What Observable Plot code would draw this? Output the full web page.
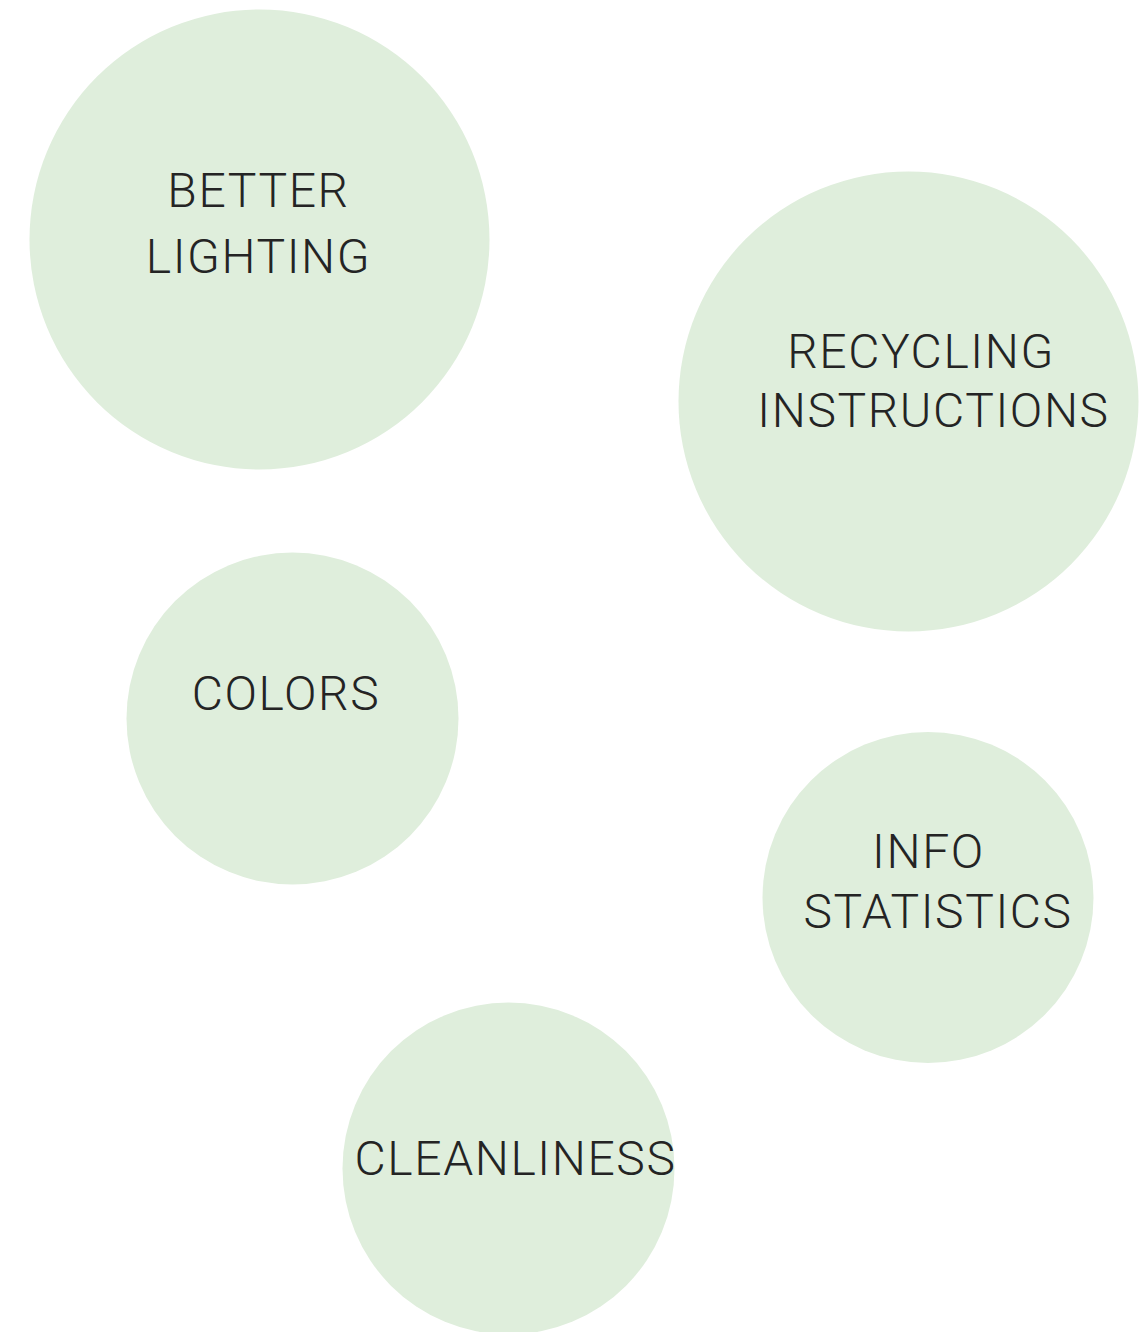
<!DOCTYPE html>
<html>
<head>
<meta charset="utf-8">
<script src="https://cdn.jsdelivr.net/npm/d3@7"></script>
<script src="https://cdn.jsdelivr.net/npm/@observablehq/plot@0.6"></script>
<style>
  html, body { margin: 0; padding: 0; background: #ffffff; }
  #chart svg { display: block; }
</style>
</head>
<body>
<div id="chart"></div>
<script>
// Bubble categories and values
const categories = ["BETTER LIGHTING", "RECYCLING INSTRUCTIONS", "COLORS", "INFO STATISTICS", "CLEANLINESS"];
const bubbleX = [259, 908, 292, 927.5, 508];
const bubbleY = [239, 401, 718, 897, 1168];
const bubbleR = [230, 230, 166, 165.5, 166];

// Label lines for each bubble
const labelLines = [["BETTER", "LIGHTING"], ["RECYCLING", "INSTRUCTIONS"], ["COLORS"], ["INFO", "STATISTICS"], ["CLEANLINESS"]];
const labelLineX = [[258, 258], [920.5, 933], [285.5], [928, 937.5], [515]];
const labelLineY = [[172, 238], [333, 392], [675], [833, 893], [1140]];

const W = 1145, H = 1332;

const bubbles = categories.map((c, i) => ({category: c, x: bubbleX[i], y: bubbleY[i], r: bubbleR[i]}));
const lines = labelLines.flatMap((ls, i) => ls.map((t, j) => ({text: t, x: labelLineX[i][j], y: labelLineY[i][j]})));

const chart = Plot.plot({
  width: W,
  height: H,
  margin: 0,
  x: {domain: [0, W], range: [0, W], axis: null},
  y: {domain: [0, H], range: [0, H], axis: null},
  r: {type: "identity"},
  style: {background: "#ffffff", letterSpacing: "1.6px"},
  marks: [
    Plot.dot(bubbles, {x: "x", y: "y", r: "r", fill: "#dfeedc", stroke: "none", fillOpacity: 1}),
    Plot.text(lines, {
      x: "x", y: "y", text: "text",
      lineAnchor: "top",
      fontSize: 48,
      fontWeight: 300,
      fontFamily: "Roboto, 'Helvetica Neue', Arial, sans-serif",
      fill: "#242424"
    })
  ]
});
document.getElementById("chart").appendChild(chart);
</script>
</body>
</html>
